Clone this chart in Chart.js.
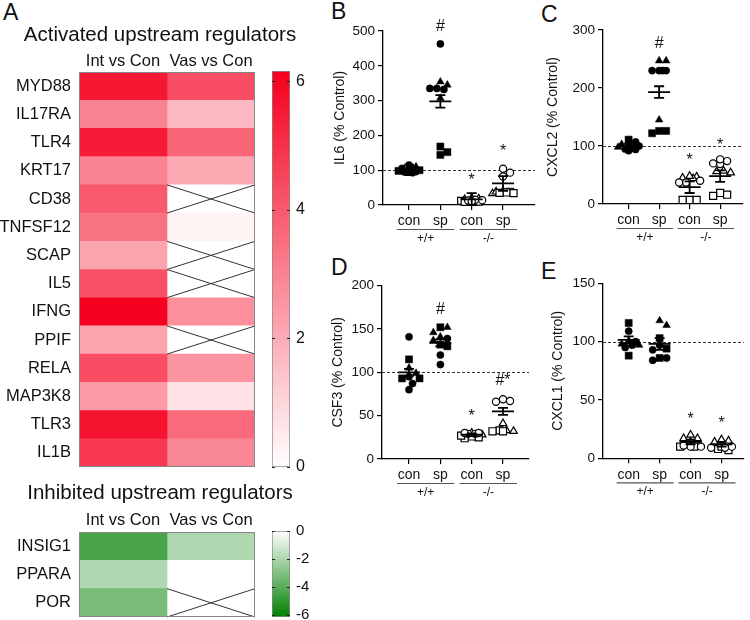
<!DOCTYPE html>
<html>
<head>
<meta charset="utf-8">
<script src="https://cdn.jsdelivr.net/npm/chart.js@4.4.1/dist/chart.umd.min.js"></script>
<style>
html, body { margin: 0; padding: 0; background: #fff; }
body { width: 750px; height: 620px; position: relative; overflow: hidden; font-family: 'Liberation Sans', Arial, sans-serif; }
canvas { position: absolute; }
.lbl { position: absolute; font-size: 23px; line-height: 23px; color: #111; }
</style>
</head>
<body>
<div class="lbl" style="left:3px;top:1px">A</div>
<div class="lbl" style="left:331px;top:0px">B</div>
<div class="lbl" style="left:541px;top:3px">C</div>
<div class="lbl" style="left:331px;top:256px">D</div>
<div class="lbl" style="left:541px;top:260px">E</div>

<canvas id="heatUp" width="320" height="475" style="left:0;top:0"></canvas>
<canvas id="barUp" width="60" height="420" style="left:262px;top:60px"></canvas>
<canvas id="heatDown" width="320" height="150" style="left:0;top:470px"></canvas>
<canvas id="barDown" width="60" height="100" style="left:262px;top:520px"></canvas>
<canvas id="cB" width="215" height="250" style="left:330px;top:0"></canvas>
<canvas id="cC" width="210" height="250" style="left:540px;top:0"></canvas>
<canvas id="cD" width="215" height="240" style="left:330px;top:265px"></canvas>
<canvas id="cE" width="210" height="240" style="left:540px;top:265px"></canvas>

<script>
// ---- heatmap data (z-scores) ----
const COLUMNS = ['Int vs Con', 'Vas vs Con'];
const REG_UP = ['MYD88', 'IL17RA', 'TLR4', 'KRT17', 'CD38', 'TNFSF12', 'SCAP', 'IL5', 'IFNG', 'PPIF', 'RELA', 'MAP3K8', 'TLR3', 'IL1B'];
const UP_INT = [5.6, 3.0, 5.5, 3.0, 4.0, 3.4, 2.2, 4.2, 6.2, 2.2, 4.3, 2.4, 5.7, 4.8];
const UP_VAS = [4.3, 1.7, 3.7, 2.1, null, 0.3, null, null, 2.7, null, 2.6, 0.7, 3.6, 2.9];
const UP_TICKS = [0, 2, 4, 6];
const REG_DOWN = ['INSIG1', 'PPARA', 'POR'];
const DOWN_INT = [-4.4, -1.9, -3.2];
const DOWN_VAS = [-1.9, 0, null];
const DOWN_TICKS = [0, -2, -4, -6];

// ---- scatter data: [group, value, shape]  c=circle s=square t=triangle ----
const GROUPS = ['con', 'sp', 'con', 'sp'];
const GENOTYPES = ['+/+', '-/-'];

const IL6_PTS = [
  [0,115,'c'],[0,100,'s'],[0,110,'t'],[0,105,'c'],[0,96,'s'],[0,100,'c'],[0,105,'t'],[0,96,'c'],[0,98,'s'],[0,93,'c'],
  [1,463,'c'],[1,345,'t'],[1,354,'t'],[1,335,'c'],[1,335,'c'],[1,332,'c'],[1,307,'t'],[1,168,'s'],[1,152,'s'],[1,144,'s'],
  [2,20,'t'],[2,12,'s'],[2,18,'t'],[2,15,'c'],[2,10,'s'],[2,16,'t'],[2,13,'c'],[2,14,'c'],[2,11,'c'],[2,9,'s'],
  [3,104,'c'],[3,93,'c'],[3,82,'c'],[3,38,'s'],[3,40,'t'],[3,36,'s'],[3,35,'s'],[3,34,'s'],[3,33,'t'],[3,38,'t']
];
const IL6_MEAN = [101, 298, 16, 62];
const IL6_SEM = [15, 18, 18, 21];
const IL6_MARKS = ['', '#', '*', '*'];
const IL6_MARK_AT = [0, 512, 81, 164];
const IL6_TICKS = [0, 100, 200, 300, 400, 500];

const CXCL2_PTS = [
  [0,107,'c'],[0,111,'s'],[0,103,'t'],[0,100,'c'],[0,95,'c'],[0,92,'c'],[0,94,'c'],[0,98,'t'],[0,102,'c'],[0,96,'c'],
  [1,247,'t'],[1,247,'t'],[1,230,'c'],[1,230,'c'],[1,230,'c'],[1,230,'c'],[1,145,'t'],[1,126,'s'],[1,122,'s'],[1,126,'s'],
  [2,47,'t'],[2,45,'t'],[2,37,'c'],[2,37,'c'],[2,44,'t'],[2,48,'t'],[2,7,'s'],[2,7,'s'],[2,7,'s'],[2,40,'c'],
  [3,74,'c'],[3,69,'c'],[3,70,'c'],[3,77,'c'],[3,57,'t'],[3,56,'t'],[3,54,'t'],[3,19,'s'],[3,14,'s'],[3,16,'s']
];
const CXCL2_MEAN = [100, 193, 29, 48];
const CXCL2_SEM = [4, 10, 10, 10];
const CXCL2_MARKS = ['', '#', '*', '*'];
const CXCL2_MARK_AT = [0, 277, 82, 107];
const CXCL2_TICKS = [0, 100, 200, 300];

const CSF3_PTS = [
  [0,141,'c'],[0,115,'s'],[0,105,'t'],[0,93,'s'],[0,93,'s'],[0,95,'c'],[0,99,'t'],[0,87,'c'],[0,80,'c'],
  [1,146,'t'],[1,141,'t'],[1,132,'s'],[1,152,'s'],[1,152,'t'],[1,139,'c'],[1,130,'s'],[1,120,'c'],[1,109,'c'],[1,137,'t'],
  [2,28,'t'],[2,30,'t'],[2,29,'c'],[2,30,'c'],[2,29,'c'],[2,30,'c'],[2,25,'s'],[2,26,'s'],[2,24,'s'],[2,27,'s'],
  [3,67,'c'],[3,69,'c'],[3,66,'c'],[3,41,'t'],[3,32,'t'],[3,33,'t'],[3,33,'s'],[3,32,'s'],[3,32,'s']
];
const CSF3_MEAN = [100, 134, 28, 55];
const CSF3_SEM = [4, 4, 1.5, 4];
const CSF3_MARKS = ['', '#', '*', '#*'];
const CSF3_MARK_AT = [0, 172, 53, 90];
const CSF3_TICKS = [0, 50, 100, 150, 200];

const CXCL1_PTS = [
  [0,116,'s'],[0,109,'c'],[0,88,'s'],[0,97,'c'],[0,100,'c'],[0,98,'t'],[0,97,'t'],[0,95,'c'],[0,101,'t'],
  [1,118,'t'],[1,114,'t'],[1,94,'s'],[1,103,'s'],[1,93,'c'],[1,97,'c'],[1,84,'c'],[1,86,'s'],[1,86,'c'],
  [2,17,'t'],[2,20,'t'],[2,17,'t'],[2,10,'c'],[2,10,'c'],[2,10,'s'],[2,11,'s'],[2,10,'s'],[2,14,'t'],[2,11,'c'],
  [3,16,'t'],[3,15,'t'],[3,8,'s'],[3,7,'s'],[3,9,'c'],[3,9,'c'],[3,10,'s'],[3,14,'t'],[3,10,'c']
];
const CXCL1_MEAN = [101.5, 98, 14, 12];
const CXCL1_SEM = [3, 5, 2, 2];
const CXCL1_MARKS = ['', '', '*', '*'];
const CXCL1_MARK_AT = [0, 0, 36.5, 33];
const CXCL1_TICKS = [0, 50, 100, 150];

// ---- shared ----
const FONT = "'Liberation Sans', Arial, sans-serif";
Chart.defaults.font.family = FONT;
Chart.defaults.color = '#111';
Chart.defaults.animation = false;
Chart.defaults.responsive = false;

const RED = [245, 0, 30], GREEN = [0, 128, 0];
const mix = (c, t) => {
  t = Math.max(0, Math.min(1, t));
  return `rgb(${Math.round(255 + (c[0] - 255) * t)},${Math.round(255 + (c[1] - 255) * t)},${Math.round(255 + (c[2] - 255) * t)})`;
};
const redOf = v => v === null ? '#fff' : mix(RED, v / 6.16);
const greenOf = v => v === null ? '#fff' : mix(GREEN, -v / 6.15);
const noPad = s => { s.paddingTop = 0; s.paddingBottom = 0; };

// crosses over empty cells + frame
const heatPlugin = {
  id: 'heatCells',
  afterDatasetsDraw(chart) {
    const ctx = chart.ctx, a = chart.chartArea;
    ctx.save();
    ctx.strokeStyle = '#333';
    ctx.lineWidth = 1;
    chart.data.datasets.forEach((ds, k) => {
      chart.getDatasetMeta(k).data.forEach((bar, i) => {
        if (ds.values[i] !== null) return;
        const t = bar.y - bar.height / 2, b = bar.y + bar.height / 2;
        ctx.beginPath();
        ctx.moveTo(bar.base, t); ctx.lineTo(bar.x, b);
        ctx.moveTo(bar.base, b); ctx.lineTo(bar.x, t);
        ctx.stroke();
      });
    });
    ctx.strokeStyle = '#888';
    ctx.strokeRect(a.left + 0.5, a.top + 0.5, a.width - 1, a.height - 1);
    ctx.restore();
  }
};

function heatmap(id, rows, intVals, vasVals, colorOf, title, titleTop, axisH, hdrPad, padBottom) {
  return new Chart(document.getElementById(id), {
    type: 'bar',
    data: {
      labels: rows,
      datasets: [intVals, vasVals].map((arr, k) => ({
        label: COLUMNS[k],
        data: arr.map(() => 1),
        values: arr,
        backgroundColor: arr.map(colorOf),
        borderWidth: 0,
        barPercentage: 1,
        categoryPercentage: 1
      }))
    },
    options: {
      indexAxis: 'y',
      layout: { padding: { right: 0, bottom: padBottom } },
      scales: {
        x: {
          type: 'linear', position: 'top', stacked: true, min: 0, max: 2,
          afterBuildTicks: s => { s.ticks = [{ value: 0.5 }, { value: 1.5 }]; },
          afterFit: s => { s.height = axisH; },
          ticks: { callback: (v, i) => COLUMNS[i], font: { size: 16.5 }, color: '#111', padding: hdrPad, maxRotation: 0 },
          grid: { display: false, drawTicks: false }, border: { display: false }
        },
        y: {
          stacked: true,
          afterFit: s => { s.width = 79; noPad(s); },
          ticks: { font: { size: 16.5 }, color: '#111', padding: 8 },
          grid: { display: false, drawTicks: false }, border: { display: false }
        },
        // empty strip on the right that leaves room for the colour bar
        yGap: {
          type: 'linear', position: 'right',
          afterFit: s => { s.width = 65; noPad(s); },
          ticks: { display: false },
          grid: { display: false, drawTicks: false }, border: { display: false }
        }
      },
      plugins: {
        legend: { display: false }, tooltip: { enabled: false },
        title: { display: true, text: title, color: '#111', font: { size: 20.5, weight: 'normal' }, padding: { top: titleTop, bottom: 0 } }
      }
    },
    plugins: [heatPlugin]
  });
}

const barTickPlugin = {
  id: 'barTicks',
  afterDraw(chart) {
    const ctx = chart.ctx, a = chart.chartArea, y = chart.scales.y;
    ctx.save();
    ctx.strokeStyle = '#222';
    ctx.lineWidth = 1;
    y.ticks.forEach(t => {
      const py = Math.round(y.getPixelForValue(t.value)) + 0.5;
      ctx.beginPath();
      ctx.moveTo(a.left, py); ctx.lineTo(a.left + 3, py);
      ctx.moveTo(a.right - 3, py); ctx.lineTo(a.right, py);
      ctx.stroke();
    });
    ctx.restore();
  }
};

function colorbar(id, lo, hi, ticks, colorOf, padTop, padBottom, fontSize) {
  return new Chart(document.getElementById(id), {
    type: 'bar',
    data: {
      labels: [''],
      datasets: [{
        data: [[lo, hi]],
        backgroundColor: c => {
          const a = c.chart.chartArea;
          if (!a) return '#fff';
          const g = c.chart.ctx.createLinearGradient(0, a.bottom, 0, a.top);
          g.addColorStop(0, colorOf(lo));
          g.addColorStop(1, colorOf(hi));
          return g;
        },
        borderColor: '#888', borderWidth: 1, borderSkipped: false,
        barPercentage: 1, categoryPercentage: 1
      }]
    },
    options: {
      layout: { padding: { left: 10, top: padTop, bottom: padBottom } },
      scales: {
        x: { display: false },
        y: {
          position: 'right', min: lo, max: hi,
          afterBuildTicks: s => { s.ticks = ticks.map(v => ({ value: v })); },
          afterFit: s => { s.width = 32; noPad(s); },
          ticks: { font: { size: fontSize }, color: '#111', padding: 6 },
          grid: { display: false, drawTicks: false }, border: { display: false }
        }
      },
      plugins: { legend: { display: false }, tooltip: { enabled: false } }
    },
    plugins: [barTickPlugin]
  });
}

heatmap('heatUp', REG_UP, UP_INT, UP_VAS, redOf, 'Activated upstream regulators', 23, 24.4, 1, 8);
colorbar('barUp', 0, 6.16, UP_TICKS, redOf, 11, 13, 16);
heatmap('heatDown', REG_DOWN, DOWN_INT, DOWN_VAS, greenOf, 'Inhibited upstream regulators', 11, 26.4, 1.5, 3);
colorbar('barDown', -6.15, 0, DOWN_TICKS, greenOf, 11, 3, 15);

// ---- scatter panels ----
const SHAPE_STYLE = { c: ['circle', 3.6], s: ['rect', 5], t: ['triangle', 4.4] };

// spread points of one group sideways so markers do not sit on each other
function swarm(values, pxX, pxY, dot, maxPx) {
  const order = values.map((v, i) => i).sort((a, b) => values[b] - values[a]);
  const cands = [0];
  for (let k = 1; k * dot / 2 <= maxPx; k++) cands.push(k * dot / 2, -k * dot / 2);
  const placed = [], off = new Array(values.length).fill(0);
  order.forEach(i => {
    const y = values[i] * pxY;
    let best = 0, bestD = -1;
    for (const c of cands) {
      let d = Infinity;
      placed.forEach(p => { d = Math.min(d, Math.hypot(p.x - c, p.y - y)); });
      if (d >= dot) { best = c; break; }
      if (d > bestD) { bestD = d; best = c; }
    }
    placed.push({ x: best, y });
    off[i] = best / pxX;
  });
  return off;
}

const statsPlugin = {
  id: 'stats',
  beforeDatasetsDraw(chart) {
    const ctx = chart.ctx, a = chart.chartArea, y = chart.scales.y;
    const py = Math.round(y.getPixelForValue(100)) + 0.5;
    ctx.save();
    ctx.strokeStyle = '#333';
    ctx.lineWidth = 1.2;
    ctx.setLineDash([3, 2]);
    ctx.beginPath();
    ctx.moveTo(a.left, py); ctx.lineTo(a.right, py);
    ctx.stroke();
    ctx.restore();
  },
  afterDatasetsDraw(chart, args, o) {
    const ctx = chart.ctx, x = chart.scales.x, y = chart.scales.y;
    ctx.save();
    ctx.strokeStyle = '#000';
    ctx.lineWidth = 1.8;
    o.mean.forEach((m, i) => {
      const px = x.getPixelForValue(i + 1);
      const pm = y.getPixelForValue(m);
      const pt = y.getPixelForValue(m + o.sem[i]);
      const pb = y.getPixelForValue(Math.max(0, m - o.sem[i]));
      ctx.beginPath();
      ctx.moveTo(px - 11, pm); ctx.lineTo(px + 11, pm);
      ctx.moveTo(px, pt); ctx.lineTo(px, pb);
      ctx.moveTo(px - 5, pt); ctx.lineTo(px + 5, pt);
      ctx.moveTo(px - 5, pb); ctx.lineTo(px + 5, pb);
      ctx.stroke();
    });
    ctx.fillStyle = '#111';
    ctx.font = '16px ' + FONT;
    ctx.textAlign = 'center';
    ctx.textBaseline = 'middle';
    o.marks.forEach((t, i) => {
      if (!t) return;
      const shift = t === '*' ? 4 : 0;
      ctx.fillText(t, x.getPixelForValue(i + 1), y.getPixelForValue(o.markAt[i]) + shift);
    });
    ctx.restore();
  },
  afterDraw(chart) {
    const ctx = chart.ctx, a = chart.chartArea, x = chart.scales.x;
    const ly = a.bottom + 24.5;
    ctx.save();
    ctx.strokeStyle = '#555';
    ctx.lineWidth = 1.2;
    ctx.fillStyle = '#111';
    ctx.font = '12px ' + FONT;
    ctx.textAlign = 'center';
    ctx.textBaseline = 'middle';
    GENOTYPES.forEach((g, k) => {
      const l = x.getPixelForValue(2 * k + 1) - 12, r = x.getPixelForValue(2 * k + 2) + 14;
      ctx.beginPath();
      ctx.moveTo(l, ly); ctx.lineTo(r, ly);
      ctx.stroke();
      ctx.fillText(g, (l + r) / 2, ly + 9);
    });
    ctx.restore();
  }
};

function scatterPanel(c) {
  const areaW = c.w - c.yW - c.padRight, areaH = c.h - c.padTop - c.xH;
  const pxX = areaW / (c.xMax - c.xMin), pxY = areaH / c.ticks[c.ticks.length - 1];
  const jitter = new Array(c.pts.length).fill(0);
  GROUPS.forEach((g, gi) => {
    const idx = c.pts.map((p, i) => i).filter(i => c.pts[i][0] === gi);
    const off = swarm(idx.map(i => c.pts[i][1]), pxX, pxY, 7, 12);
    idx.forEach((i, k) => { jitter[i] = off[k]; });
  });
  const datasets = [];
  [true, false].forEach(filled => {
    Object.keys(SHAPE_STYLE).forEach(sh => {
      const data = c.pts.map((p, i) => ({ p, i }))
        .filter(({ p }) => p[2] === sh && (p[0] < 2) === filled)
        .map(({ p, i }) => ({ x: p[0] + 1 + jitter[i], y: p[1] }));
      datasets.push({
        data,
        pointStyle: SHAPE_STYLE[sh][0],
        pointRadius: SHAPE_STYLE[sh][1],
        backgroundColor: filled ? '#000' : '#fff',
        borderColor: '#000',
        borderWidth: filled ? 0.5 : 1.2,
        clip: false
      });
    });
  });
  return new Chart(document.getElementById(c.id), {
    type: 'scatter',
    data: { datasets },
    options: {
      layout: { padding: { top: c.padTop, right: c.padRight, left: 0, bottom: 0 } },
      scales: {
        x: {
          type: 'linear', min: c.xMin, max: c.xMax,
          afterBuildTicks: s => { s.ticks = GROUPS.map((g, i) => ({ value: i + 1 })); },
          afterFit: s => { s.height = c.xH; },
          ticks: { callback: (v, i) => GROUPS[i], font: { size: 14 }, color: '#111', padding: 3, maxRotation: 0, autoSkip: false },
          grid: { drawOnChartArea: false, color: '#000', tickLength: 5, lineWidth: 1.2 },
          border: { color: '#000', width: 1.3 }
        },
        y: {
          min: 0, max: c.ticks[c.ticks.length - 1],
          afterBuildTicks: s => { s.ticks = c.ticks.map(v => ({ value: v })); },
          afterFit: s => { s.width = c.yW; },
          ticks: { font: { size: 13.5 }, color: '#111', padding: 3 },
          grid: { drawOnChartArea: false, color: '#000', tickLength: 5, lineWidth: 1.2 },
          border: { color: '#000', width: 1.3 },
          title: { display: true, text: c.title, color: '#111', font: { size: 14 }, padding: { top: c.titlePad, bottom: 0 } }
        }
      },
      plugins: {
        legend: { display: false }, tooltip: { enabled: false },
        stats: { mean: c.mean, sem: c.sem, marks: c.marks, markAt: c.markAt }
      }
    },
    plugins: [statsPlugin]
  });
}

scatterPanel({ id: 'cB', w: 215, h: 250, padTop: 31, padRight: 10, yW: 53, xH: 45, xMin: 0.17, xMax: 5.02, titlePad: 1.6,
  title: 'IL6 (% Control)', pts: IL6_PTS, mean: IL6_MEAN, sem: IL6_SEM, marks: IL6_MARKS, markAt: IL6_MARK_AT, ticks: IL6_TICKS });
scatterPanel({ id: 'cC', w: 210, h: 250, padTop: 30, padRight: 7, yW: 63, xH: 46, xMin: 0.16, xMax: 4.75, titlePad: 4.6,
  title: 'CXCL2 (% Control)', pts: CXCL2_PTS, mean: CXCL2_MEAN, sem: CXCL2_SEM, marks: CXCL2_MARKS, markAt: CXCL2_MARK_AT, ticks: CXCL2_TICKS });
scatterPanel({ id: 'cD', w: 215, h: 240, padTop: 20.7, padRight: 16, yW: 52, xH: 46, xMin: 0.137, xMax: 4.83, titlePad: 0,
  title: 'CSF3 (% Control)', pts: CSF3_PTS, mean: CSF3_MEAN, sem: CSF3_SEM, marks: CSF3_MARKS, markAt: CSF3_MARK_AT, ticks: CSF3_TICKS });
scatterPanel({ id: 'cE', w: 210, h: 240, padTop: 18.3, padRight: 5, yW: 63, xH: 46.7, xMin: 0.17, xMax: 4.72, titlePad: 9.6,
  title: 'CXCL1 (% Control)', pts: CXCL1_PTS, mean: CXCL1_MEAN, sem: CXCL1_SEM, marks: CXCL1_MARKS, markAt: CXCL1_MARK_AT, ticks: CXCL1_TICKS });
</script>
</body>
</html>
